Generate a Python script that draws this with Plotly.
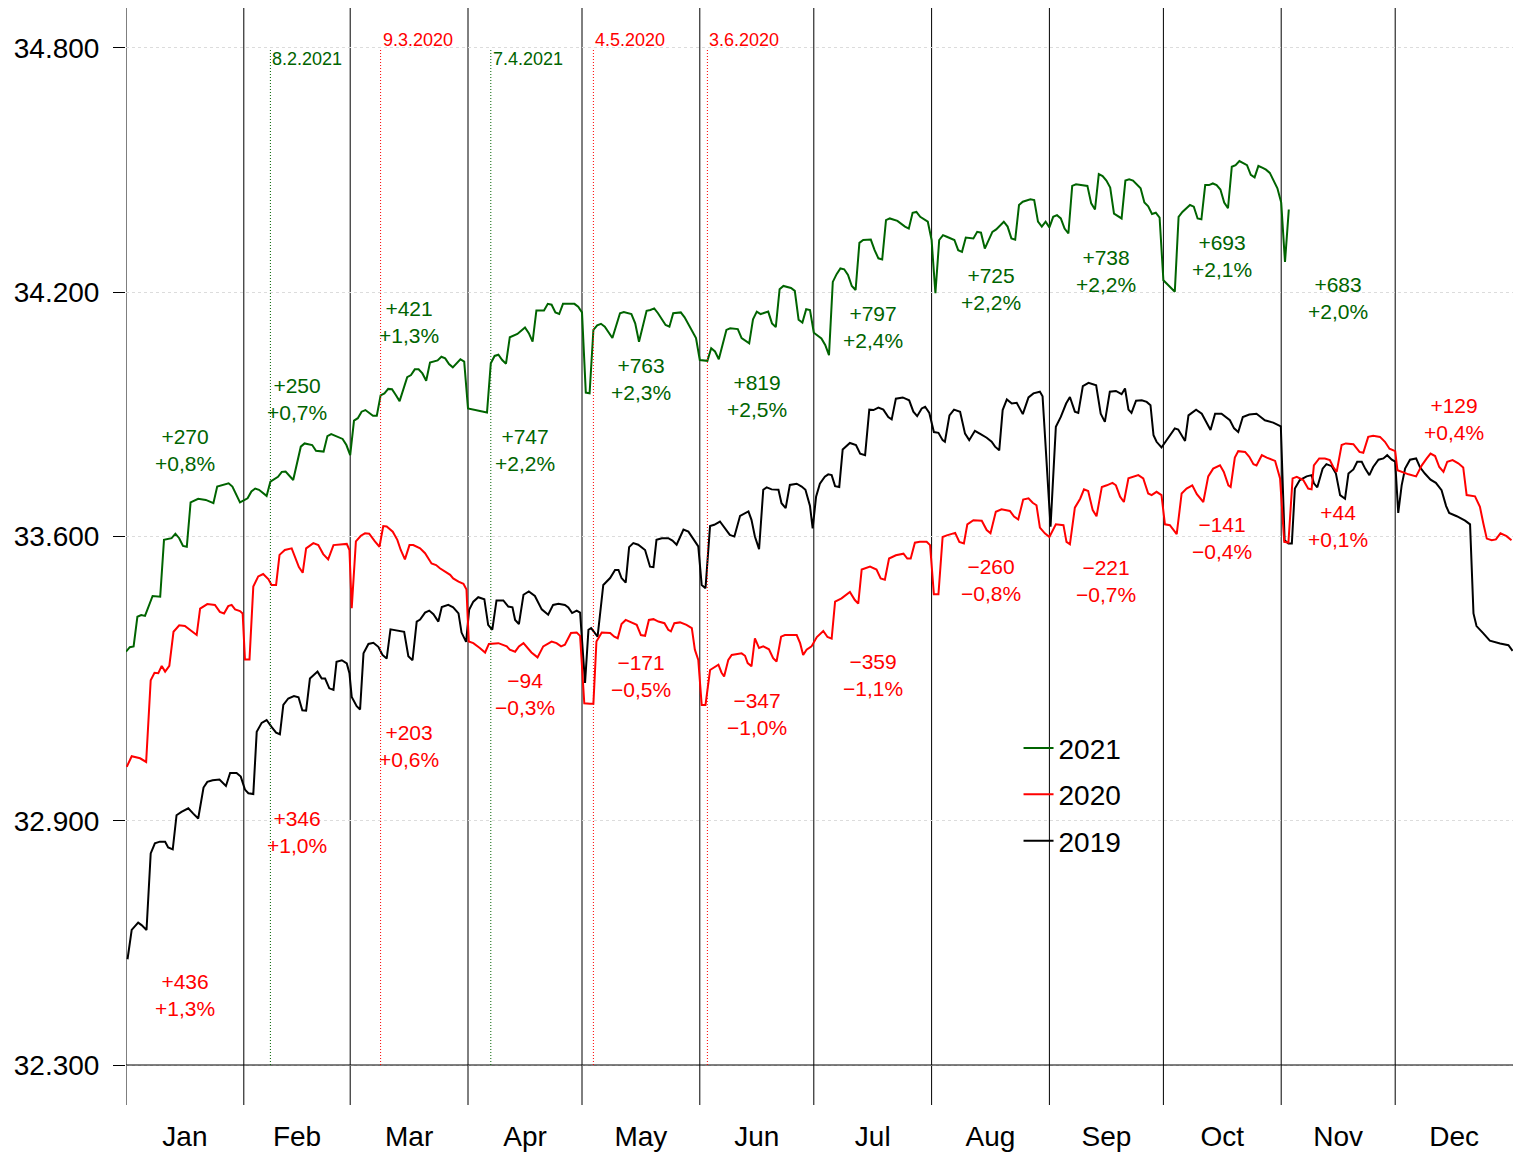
import plotly.graph_objects as go

# ---------------- data (day of year, 0 = 1 Jan; values in thousands) ----------------
months = ["Jan", "Feb", "Mar", "Apr", "May", "Jun", "Jul", "Aug", "Sep", "Oct", "Nov", "Dec"]
month_start = [0, 31, 59, 90, 120, 151, 181, 212, 243, 273, 304, 334]
year_days = 365

days_2021 = [0, 1, 2, 3, 4, 5, 7, 9, 10, 12, 13, 14, 15, 16, 17, 19, 21, 22, 23, 24, 26, 27, 28, 29, 30,
             32, 33, 34, 35, 37, 38, 40, 41, 42, 43, 44, 46, 47, 49, 50, 52, 53, 54, 55, 57, 58, 59,
             60, 61, 62, 63, 65, 66, 67, 68, 69, 70, 71, 72, 74, 75, 76, 77, 78, 79, 80, 82, 83, 84, 85, 86, 88, 89,
             90, 93, 95, 96, 97, 98, 99, 100, 101, 103, 105, 106, 107, 108, 110, 111, 112, 113, 114, 115, 118, 119,
             120, 121, 122, 123, 124, 125, 126, 128, 130, 131, 133, 134, 135, 137, 138, 139, 140, 142, 143, 144, 146,
             147, 149, 150, 151, 153, 154, 155, 156, 158, 159, 161, 162, 164, 165, 166, 167, 169, 170, 171, 172, 173,
             175, 176, 177, 178, 179, 180, 181, 183, 184, 185, 186, 187, 188, 189, 190, 191, 192, 193, 194, 196, 197,
             198, 199, 200, 201, 203, 205, 206, 207, 208, 209, 211, 212, 213, 214, 215, 216, 218, 219, 220, 221, 223,
             224, 225, 226, 228, 229, 231, 232, 233, 234, 235, 236, 238, 239, 240, 241, 242, 243, 244, 245, 246, 247,
             248, 249, 250, 253, 254, 255, 256, 257, 258, 259, 260, 262, 263, 264, 265, 267, 268, 269, 270, 271, 272,
             273, 275, 276, 277, 278, 280, 281, 282, 283, 284, 285, 286, 287, 288, 289, 290, 291, 292, 293, 295, 296,
             297, 298, 299, 300, 301, 303, 304, 305, 306]
vals_2021 = [33316, 33327, 33329, 33402, 33406, 33404, 33453, 33451, 33591, 33595, 33606, 33595, 33576, 33574,
             33683, 33692, 33689, 33685, 33681, 33722, 33728, 33730, 33722, 33704, 33683,
             33693, 33710, 33717, 33714, 33699, 33734, 33746, 33758, 33759, 33748, 33738, 33820, 33828, 33824, 33810,
             33808, 33846, 33851, 33847, 33839, 33824, 33799,
             33884, 33890, 33906, 33910, 33896, 33896, 33946, 33951, 33962, 33961, 33947, 33932, 33991, 33996, 34010,
             34010, 34000, 33982, 34027, 34032, 34041, 34037, 34023, 34015, 34035, 34029,
             33914, 33908, 33904, 34025, 34043, 34046, 34033, 34024, 34089, 34097, 34113, 34099, 34078, 34155, 34155,
             34171, 34169, 34150, 34146, 34171, 34171, 34164,
             34150, 33953, 33951, 34107, 34118, 34122, 34115, 34087, 34148, 34151, 34146, 34123, 34078, 34154, 34156,
             34160, 34148, 34119, 34115, 34148, 34150,
             34138, 34103, 34087, 34033, 34031, 34062, 34054, 34035, 34107, 34111, 34109, 34087, 34074, 34133, 34152,
             34146, 34152, 34123, 34114, 34207, 34215,
             34210, 34203, 34132, 34125, 34158, 34156, 34100, 34086, 34070, 34045, 34225, 34244, 34258, 34256, 34242,
             34215, 34205, 34321, 34328, 34329, 34303,
             34283, 34280, 34377, 34381, 34375, 34361, 34356, 34395, 34397, 34385, 34373, 34328, 34197, 34328, 34340,
             34336, 34328, 34303, 34299, 34334, 34332,
             34348, 34346, 34307, 34348, 34354, 34373, 34361, 34332, 34329, 34414, 34422, 34428, 34426, 34373, 34361,
             34373, 34359, 34385, 34389, 34381, 34356,
             34344, 34461, 34465, 34461, 34418, 34403, 34490, 34485, 34474, 34457, 34393, 34381, 34474, 34477, 34474,
             34455, 34420, 34411, 34392, 34395, 34383,
             34229, 34211, 34201, 34385, 34397, 34414, 34410, 34381, 34379, 34463, 34463, 34467, 34463, 34452, 34420,
             34406, 34508, 34512, 34522, 34512, 34488,
             34482, 34510, 34506, 34501, 34493, 34455, 34420, 34274, 34403]

days_2020 = [0.2, 1.5, 3.7, 5.3, 6.5, 7.5, 8.5, 9.4, 10.3, 11.4, 12.5, 14.0, 15.5, 17.3, 18.6, 19.5, 21.4, 23.4,
             24.7, 25.8, 26.9, 27.8, 28.7, 30.0, 30.7, 31.3, 32.5, 33.5, 34.8, 36.1, 37.5, 38.3, 39.5, 40.4, 41.8,
             43.6, 45.5, 46.5, 47.4, 49.3, 50.6, 51.9, 53.2, 54.6, 58.1, 58.8, 59.4, 60.5, 61.8, 62.9, 64.0, 65.5,
             66.7, 67.7, 68.6, 70.2, 71.4, 72.3, 73.4, 74.6, 75.6, 77.4, 78.7, 80.4, 81.6, 82.6, 83.9, 85.3, 86.1,
             87.5, 88.8, 89.6, 90.2, 91.4, 93.1, 94.5, 95.5, 98.0, 100.2, 101.0, 102.4, 103.4, 104.6, 105.4, 106.7,
             108.3, 109.8, 112.0, 113.3, 114.5, 115.5, 117.1, 118.6, 119.5, 120.6, 122.1, 123.0, 123.8, 125.2, 127.4,
             128.5, 129.4, 130.4, 131.5, 133.1, 134.4, 135.5, 136.6, 137.6, 138.8, 140.1, 141.7, 142.7, 143.4, 144.3,
             145.8, 147.5, 148.9, 149.7, 150.6, 151.5, 152.5, 153.7, 155.0, 155.9, 156.7, 157.4, 158.5, 159.4, 162.0,
             162.9, 163.6, 164.6, 165.5, 166.6, 167.7, 169.2, 170.3, 171.2, 172.4, 173.4, 175.0, 176.5, 177.4, 178.2,
             179.1, 180.4, 181.8, 183.5, 184.6, 185.7, 186.6, 188.3, 190.5, 191.8, 192.7, 193.6, 195.8, 197.5, 198.6,
             199.7, 200.8, 202.6, 204.6, 205.6, 206.5, 207.6, 208.9, 210.7, 211.6, 212.6, 213.8, 214.9, 216.0, 218.2,
             219.3, 220.5, 221.4, 223.0, 225.2, 226.5, 227.5, 228.9, 230.4, 232.6, 233.7, 234.8, 236.1, 237.5, 238.6,
             239.6, 240.5, 241.8, 243.0, 244.7, 246.7, 247.5, 248.4, 249.7, 251.1, 252.1, 253.2, 254.4, 255.4, 256.8,
             258.1, 259.6, 260.5, 261.6, 262.6, 263.8, 266.4, 267.7, 269.0, 269.9, 271.2, 272.5, 273.4, 274.7, 276.5,
             277.8, 279.1, 280.6, 281.8, 283.5, 284.8, 286.1, 287.9, 288.9, 290.1, 290.7, 291.8, 292.7, 294.5, 295.6,
             296.7, 297.5, 298.9, 300.2, 302.4, 303.7, 304.8, 305.9, 307.0, 308.1, 309.8, 311.1, 312.0, 312.6, 314.0,
             315.5, 316.8, 317.7, 318.6, 319.9, 321.0, 323.0, 324.6, 325.6, 326.9, 328.2, 330.0, 331.3, 332.5, 334.0,
             334.6, 335.7, 337.5, 339.5, 341.0, 342.3, 343.3, 344.5, 345.6, 346.7, 347.7, 349.1, 350.6, 351.9, 352.8,
             355.0, 356.3, 357.2, 358.1, 359.4, 360.5, 361.7, 363.3, 364.6]
vals_2020 = [33033, 33059, 33054, 33045, 33246, 33264, 33263, 33281, 33267, 33281, 33365, 33381, 33379, 33365,
             33357, 33422, 33433, 33431, 33414, 33410, 33428, 33431, 33420, 33416, 33410, 33297, 33297, 33476, 33501,
             33507, 33494, 33480, 33480, 33554, 33566, 33570, 33524, 33510, 33570, 33583, 33578, 33556, 33543, 33578,
             33581, 33566, 33423, 33587, 33601, 33607, 33606, 33587, 33574, 33625, 33624, 33611, 33591, 33566, 33543,
             33578, 33578, 33570, 33558, 33533, 33529, 33521, 33513, 33505, 33496, 33488, 33483, 33469, 33341, 33337,
             33325, 33314, 33335, 33337, 33329, 33321, 33316, 33329, 33337, 33329, 33314, 33302, 33329, 33341, 33337,
             33329, 33333, 33362, 33363, 33355, 33189, 33188, 33188, 33341, 33363, 33362, 33353, 33349, 33384, 33394,
             33388, 33382, 33357, 33355, 33394, 33396, 33390, 33386, 33370, 33366, 33386, 33388, 33382, 33374, 33321,
             33296, 33185, 33185, 33271, 33280, 33284, 33265, 33255, 33296, 33308, 33312, 33306, 33288, 33280, 33349,
             33325, 33329, 33322, 33300, 33292, 33353, 33357, 33357, 33357, 33337, 33308, 33321, 33329, 33352, 33367,
             33352, 33348, 33439, 33447, 33463, 33443, 33434, 33518, 33525, 33518, 33496, 33493, 33545, 33553, 33557,
             33545, 33545, 33584, 33586, 33586, 33578, 33457, 33457, 33598, 33602, 33608, 33586, 33582, 33629, 33639,
             33638, 33615, 33607, 33660, 33666, 33662, 33648, 33641, 33690, 33693, 33682, 33676, 33621, 33607, 33598,
             33629, 33627, 33586, 33580, 33670, 33692, 33715, 33711, 33664, 33649, 33721, 33725, 33731, 33725, 33697,
             33684, 33742, 33750, 33742, 33705, 33701, 33709, 33701, 33629, 33627, 33605, 33705, 33717, 33725, 33703,
             33684, 33747, 33766, 33774, 33758, 33725, 33721, 33793, 33809, 33807, 33795, 33777, 33774, 33799, 33793,
             33785, 33742, 33586, 33584, 33742, 33746, 33738, 33717, 33715, 33774, 33791, 33791, 33787, 33770, 33758,
             33824, 33828, 33826, 33807, 33805, 33844, 33847, 33844, 33832, 33815, 33809, 33762, 33758, 33752, 33747,
             33774, 33791, 33803, 33797, 33770, 33758, 33783, 33787, 33779, 33769, 33701, 33698, 33672, 33631, 33594,
             33590, 33592, 33607, 33600, 33590]

days_2019 = [0.4, 1.5, 3.2, 4.1, 5.4, 6.5, 7.6, 8.9, 10.3, 11.1, 12.3, 13.3, 14.6, 16.4, 17.7, 19.0, 20.4, 21.4,
             22.8, 24.6, 26.3, 27.4, 29.1, 30.2, 31.3, 32.2, 33.5, 34.4, 35.7, 37.0, 38.3, 39.5, 40.5, 41.4, 42.7,
             44.2, 45.4, 46.4, 47.4, 48.4, 50.4, 51.5, 52.4, 53.5, 54.6, 55.4, 56.8, 58.1, 58.8, 59.4, 60.7, 61.6,
             62.5, 63.8, 65.1, 66.4, 67.5, 68.6, 69.6, 71.2, 73.2, 74.3, 75.4, 76.5, 77.4, 78.7, 79.8, 80.9, 82.2,
             83.1, 84.8, 86.1, 87.5, 88.3, 89.5, 90.3, 91.4, 92.7, 94.3, 95.3, 96.4, 97.5, 99.3, 100.6, 101.7, 102.4,
             103.4, 104.6, 106.0, 107.6, 109.4, 111.1, 112.4, 113.8, 115.5, 116.4, 117.4, 118.6, 119.5, 120.8, 121.7,
             122.4, 123.4, 124.1, 125.6, 127.4, 128.7, 129.6, 130.4, 131.5, 132.4, 133.5, 134.8, 136.6, 137.9, 138.8,
             139.6, 141.0, 142.7, 143.8, 144.9, 146.7, 148.0, 149.7, 150.6, 151.5, 152.5, 153.7, 154.8, 156.3, 157.6,
             158.9, 160.1, 161.6, 163.8, 164.6, 165.5, 166.6, 167.7, 168.6, 169.9, 171.7, 172.5, 173.6, 174.7, 176.5,
             177.8, 178.8, 180.0, 180.7, 181.6, 182.6, 183.9, 184.8, 185.7, 186.6, 187.7, 188.6, 190.5, 192.1, 193.2,
             194.5, 195.6, 196.7, 198.0, 199.3, 200.6, 201.5, 202.6, 204.4, 206.1, 207.2, 208.2, 209.4, 210.3, 211.4,
             212.6, 213.8, 214.9, 215.5, 216.7, 217.9, 219.5, 220.8, 221.9, 223.4, 224.9, 226.5, 227.8, 228.7, 229.8,
             230.7, 231.8, 233.1, 234.4, 236.0, 237.5, 238.8, 240.5, 241.2, 243.3, 244.7, 246.0, 247.4, 248.4, 249.7,
             250.6, 251.8, 253.3, 255.3, 256.5, 257.6, 258.9, 260.5, 262.0, 262.9, 263.8, 264.6, 265.8, 267.3, 268.6,
             269.6, 270.4, 271.2, 272.5, 274.6, 276.0, 276.9, 278.7, 279.6, 281.6, 283.1, 284.4, 285.4, 286.6, 288.3,
             290.5, 291.6, 292.7, 293.9, 295.6, 297.5, 298.6, 299.7, 301.9, 303.9, 304.9, 305.9, 306.8, 307.6, 308.9,
             310.7, 312.0, 312.6, 313.5, 314.9, 315.9, 317.3, 318.4, 319.5, 320.8, 321.7, 323.0, 324.0, 325.2, 326.1,
             327.2, 328.2, 329.6, 330.9, 331.9, 333.1, 334.0, 334.8, 335.7, 336.6, 337.9, 339.5, 340.5, 341.8, 343.3,
             344.7, 346.2, 347.4, 348.2, 350.2, 352.4, 353.7, 354.6, 355.4, 357.2, 358.9, 361.6, 363.8, 364.9]
vals_2019 = [32560, 32632, 32650, 32644, 32632, 32820, 32845, 32849, 32849, 32835, 32830, 32914, 32922, 32931,
             32918, 32906, 32982, 32996, 33000, 33002, 32986, 33018, 33018, 33009, 32977, 32968, 32966, 33119, 33141,
             33148, 33131, 33117, 33113, 33185, 33201, 33207, 33204, 33172, 33171, 33250, 33267, 33250, 33250, 33226,
             33222, 33291, 33295, 33287, 33263, 33205, 33182, 33174, 33312, 33335, 33338, 33328, 33308, 33299, 33371,
             33369, 33365, 33305, 33295, 33390, 33395, 33412, 33417, 33408, 33390, 33426, 33431, 33425, 33410, 33363,
             33340, 33419, 33439, 33450, 33445, 33382, 33370, 33442, 33442, 33427, 33425, 33394, 33384, 33456, 33464,
             33453, 33420, 33407, 33431, 33434, 33431, 33425, 33411, 33417, 33412, 33239, 33370, 33374, 33362, 33353,
             33480, 33497, 33517, 33517, 33497, 33486, 33573, 33583, 33579, 33566, 33525, 33524, 33591, 33595, 33595,
             33589, 33579, 33616, 33611, 33589, 33575, 33480, 33472, 33625, 33628, 33636, 33620, 33603, 33599, 33650,
             33661, 33640, 33599, 33568, 33714, 33720, 33715, 33714, 33681, 33669, 33726, 33729, 33722, 33714, 33674,
             33619, 33697, 33729, 33746, 33752, 33750, 33723, 33721, 33813, 33829, 33824, 33803, 33799, 33911, 33910,
             33916, 33911, 33893, 33887, 33938, 33941, 33934, 33906, 33895, 33914, 33918, 33903, 33856, 33854, 33836,
             33832, 33897, 33911, 33906, 33852, 33836, 33859, 33851, 33842, 33832, 33820, 33811, 33910, 33936, 33926,
             33928, 33900, 33941, 33951, 33955, 33944, 33623, 33869, 33893, 33926, 33942, 33906, 33903, 33969, 33977,
             33971, 33901, 33881, 33955, 33957, 33949, 33963, 33911, 33903, 33933, 33934, 33930, 33922, 33848, 33832,
             33818, 33848, 33865, 33862, 33834, 33897, 33911, 33901, 33877, 33861, 33901, 33901, 33885, 33865, 33856,
             33893, 33899, 33901, 33893, 33885, 33879, 33870, 33590, 33582, 33582, 33717, 33738, 33747, 33750, 33730,
             33720, 33766, 33777, 33772, 33754, 33701, 33692, 33754, 33764, 33783, 33783, 33766, 33750, 33770, 33788,
             33791, 33799, 33788, 33783, 33657, 33725, 33766, 33788, 33791, 33770, 33754, 33739, 33731, 33713, 33674,
             33657, 33649, 33638, 33629, 33410, 33379, 33361, 33343, 33336, 33332, 33318]

# monthly differences: 2021 vs 2020 (green) and 2020 vs 2019 (red)
diff_2021_abs = [270, 250, 421, 747, 763, 819, 797, 725, 738, 693, 683]
diff_2021_pct = [0.8, 0.7, 1.3, 2.2, 2.3, 2.5, 2.4, 2.2, 2.2, 2.1, 2.0]
diff_2020_abs = [436, 346, 203, -94, -171, -347, -359, -260, -221, -141, 44, 129]
diff_2020_pct = [1.3, 1.0, 0.6, -0.3, -0.5, -1.0, -1.1, -0.8, -0.7, -0.4, 0.1, 0.4]

# event dates (label, day of year, year of series)
event_labels = ["8.2.2021", "9.3.2020", "7.4.2021", "4.5.2020", "3.6.2020"]
event_days = [38, 67, 96, 123, 153]
event_years = ["2021", "2020", "2021", "2020", "2020"]

y_ticks = [32300, 32900, 33600, 34200, 34800]

# ---------------- styling / layout positions ----------------
colors = {"2021": "#006400", "2020": "#FF0000", "2019": "#000000"}
label_y_2021 = [33812, 33937, 34126, 33813, 33986, 33945, 34114, 34208, 34253, 34289, 34185]
label_y_2020 = [32472, 32874, 33084, 33211, 33257, 33164, 33259, 33493, 33490, 33595, 33624, 33887]
FONT = "Liberation Sans, Arial, Helvetica, sans-serif"


def fmt_signed(v, pct=False):
    sign = "+" if v >= 0 else "\u2212"
    if pct:
        return sign + f"{abs(v):.1f}".replace(".", ",") + "%"
    return sign + f"{abs(v)}"


month_ends = month_start[1:] + [year_days]
month_mid = [(a + b) / 2 for a, b in zip(month_start, month_ends)]

fig = go.Figure()
for name, xs, ys, grp, rank in [("2019", days_2019, vals_2019, "c", 3),
                                ("2020", days_2020, vals_2020, "b", 2),
                                ("2021", days_2021, vals_2021, "a", 1)]:
    fig.add_trace(go.Scatter(x=xs, y=ys, mode="lines", name=name, legendgroup=grp, legendrank=rank,
                             line=dict(color=colors[name], width=2), hoverinfo="skip"))

# month separator lines
for m in month_start:
    fig.add_vline(x=m, line_width=1, line_color="black", layer="below")

# x axis baseline
fig.add_shape(type="line", x0=0, x1=year_days, y0=y_ticks[0], y1=y_ticks[0],
              line=dict(color="black", width=1))

# event dotted lines + labels
for lab, d, yr in zip(event_labels, event_days, event_years):
    fig.add_shape(type="line", x0=d, x1=d, y0=y_ticks[0], y1=y_ticks[-1],
                  line=dict(color=colors[yr], width=1, dash="1px,2px"))
    fig.add_annotation(x=d, y=y_ticks[-1], text=lab, showarrow=False, xanchor="left",
                       yanchor="middle", xshift=0, yshift=(8 if yr == "2020" else -11),
                       font=dict(size=18, color=colors[yr], family=FONT))

# monthly difference labels
for i, (a, p) in enumerate(zip(diff_2021_abs, diff_2021_pct)):
    fig.add_annotation(x=month_mid[i], y=label_y_2021[i],
                       text=fmt_signed(a) + "<br>" + fmt_signed(p, True), showarrow=False,
                       font=dict(size=21, color=colors["2021"], family=FONT))
for i, (a, p) in enumerate(zip(diff_2020_abs, diff_2020_pct)):
    fig.add_annotation(x=month_mid[i], y=label_y_2020[i],
                       text=fmt_signed(a) + "<br>" + fmt_signed(p, True), showarrow=False,
                       font=dict(size=21, color=colors["2020"], family=FONT))

fig.update_layout(
    width=1513, height=1154,
    margin=dict(l=126, r=0, t=8, b=49),
    plot_bgcolor="white", paper_bgcolor="white",
    font=dict(family=FONT, color="black"),
    showlegend=True,
    legend=dict(x=0.6435, y=0.348, xanchor="left", yanchor="top", traceorder="grouped",
                tracegroupgap=7, font=dict(size=28, family=FONT), bgcolor="rgba(0,0,0,0)"),
    xaxis=dict(range=[0, year_days], tickvals=month_mid, ticktext=months, ticks="",
               showgrid=False, zeroline=False, showline=False,
               tickfont=dict(size=28, family=FONT), ticklabelstandoff=12),
    yaxis=dict(range=[32201.7, 34898.3], tickvals=y_ticks,
               ticktext=[f"{v:,}".replace(",", ".") for v in y_ticks],
               ticks="outside", ticklen=12, tickwidth=1, tickcolor="black",
               showgrid=True, gridcolor="#dcdcdc", griddash="dot", gridwidth=1,
               zeroline=False, showline=False,
               tickfont=dict(size=28, family=FONT), ticklabelstandoff=8),
)

fig.write_html("out.html", config={"displayModeBar": False},
               post_script="document.body.style.margin='0';")
